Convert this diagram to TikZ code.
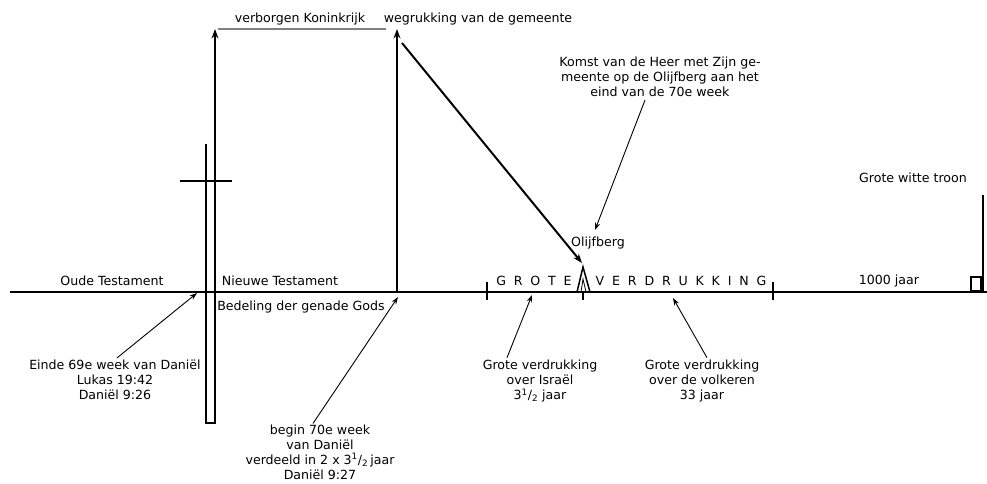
\documentclass[tikz,border=0pt]{standalone}
\usepackage{fontspec}
\setmainfont{DejaVu Sans}
\usetikzlibrary{arrows.meta,positioning,calc}
\tikzset{
  lbl/.style={font=\fontsize{12.6}{15}\selectfont, inner sep=0pt, align=center},
  spaced/.style={font=\fontsize{12.6}{15}\selectfont\addfontfeature{LetterSpace=62}, inner sep=0pt},
  axis/.style={line width=2pt},
  tck/.style={line width=2pt},
  bigarr/.style={-{Stealth[length=3.3mm, width=2.4mm]}, line width=2pt},
  pijl/.style={-{Stealth[length=2.6mm, width=1.8mm]}, line width=0.9pt},
}

\begin{document}
\begin{tikzpicture}[x=1pt, y=-1pt]
\useasboundingbox (0,0) rectangle (987,483);

% tijdlijn
\coordinate (start) at (10,292);
\coordinate (eind) at (987,292);
\draw[axis] (start) -- (eind);

% kruis en verborgen Koninkrijk
\coordinate (kruisTop) at (206,144);
\coordinate (kruisBodem) at (206,423);
\coordinate (kruisHoek) at (215,423);
\coordinate (kruisPijl) at (215,29);
\coordinate (kruisOp) at (197,293);
\draw[bigarr] (kruisTop) -- (kruisBodem) -- (kruisHoek) -- (kruisPijl);
\draw[tck] (180,181) coordinate (balkL) -- (232,181) coordinate (balkR);

\node[lbl] (verborgen) at (300,19) {verborgen Koninkrijk};
\draw[gray, line width=1.2pt] (218,29) coordinate (lijnL) -- (386,29) coordinate (lijnR);

% wegrukking
\coordinate (wegVoet) at (397,292);
\coordinate (wegTop) at (397,29);
\draw[bigarr] (wegVoet) -- (wegTop);
\node[lbl] (wegrukking) at (478,19) {wegrukking van de gemeente};
\coordinate (diagStart) at (402,43);
\coordinate (diagEind) at (582,263);
\draw[bigarr] (diagStart) -- (diagEind);

% Olijfberg
\coordinate (berg) at (583,267);
\draw[line width=1.5pt] (577,292) -- (berg) -- (590,292);
\draw[line width=0.8pt] (581,292) -- (583,279) -- (586,292);
\node[lbl] (olijfberg) at (598,243) {Olijfberg};
\node[lbl] (komst) at (660,77) {Komst van de Heer met Zijn ge-\\meente op de Olijfberg aan het\\eind van de 70e week};
\draw[pijl] ($(komst.south)+(-15,3)$) -- (595,230);

% streepjes
\draw[tck] (487,282) coordinate (t1) -- (487,300);
\draw[tck] (583,292) coordinate (t2) -- (583,300);
\draw[tck] (773,282) coordinate (t3) -- (773,300);

\node[spaced] (grote) at (534,281) {GROTE};
\node[spaced] (verdrukking) at (681,281) {VERDRUKKING};

% troon
\node[lbl] (troon) at (913,178) {Grote witte troon};
\draw[tck] (983,195) coordinate (troonTop) -- (983,292);
\draw[line width=1.6pt] (971,277) rectangle (981,291);
\node[lbl] (duizend) at (889,281) {1000 jaar};

% labels op de lijn
\node[lbl] (oude) at (112,281) {Oude Testament};
\node[lbl] (nieuwe) at (280,281) {Nieuwe Testament};
\node[lbl] (bedeling) at (301,307) {Bedeling der genade Gods};

% onder de lijn
\node[lbl] (einde) at (115,380) {Einde 69e week van Daniël\\Lukas 19:42\\Daniël 9:26};
\draw[pijl] ($(einde.north)+(2,-2)$) -- (kruisOp);

\node[lbl] (begin) at (320,452) {begin 70e week\\van Daniël\\verdeeld in 2 x 3\textsuperscript{1}/\textsubscript{2}\,jaar\\Daniël 9:27};
\draw[pijl] ($(begin.north)+(-7,-1)$) -- (398,297);

\node[lbl] (israel) at (540,381) {Grote verdrukking\\over Israël\\3\textsuperscript{1}/\textsubscript{2} jaar};
\draw[pijl] ($(israel.north)+(-33,-2)$) -- (532,295);

\node[lbl] (volkeren) at (702,381) {Grote verdrukking\\over de volkeren\\33 jaar};
\draw[pijl] ($(volkeren.north)+(5,-2)$) -- (673,298);

\end{tikzpicture}
\end{document}
